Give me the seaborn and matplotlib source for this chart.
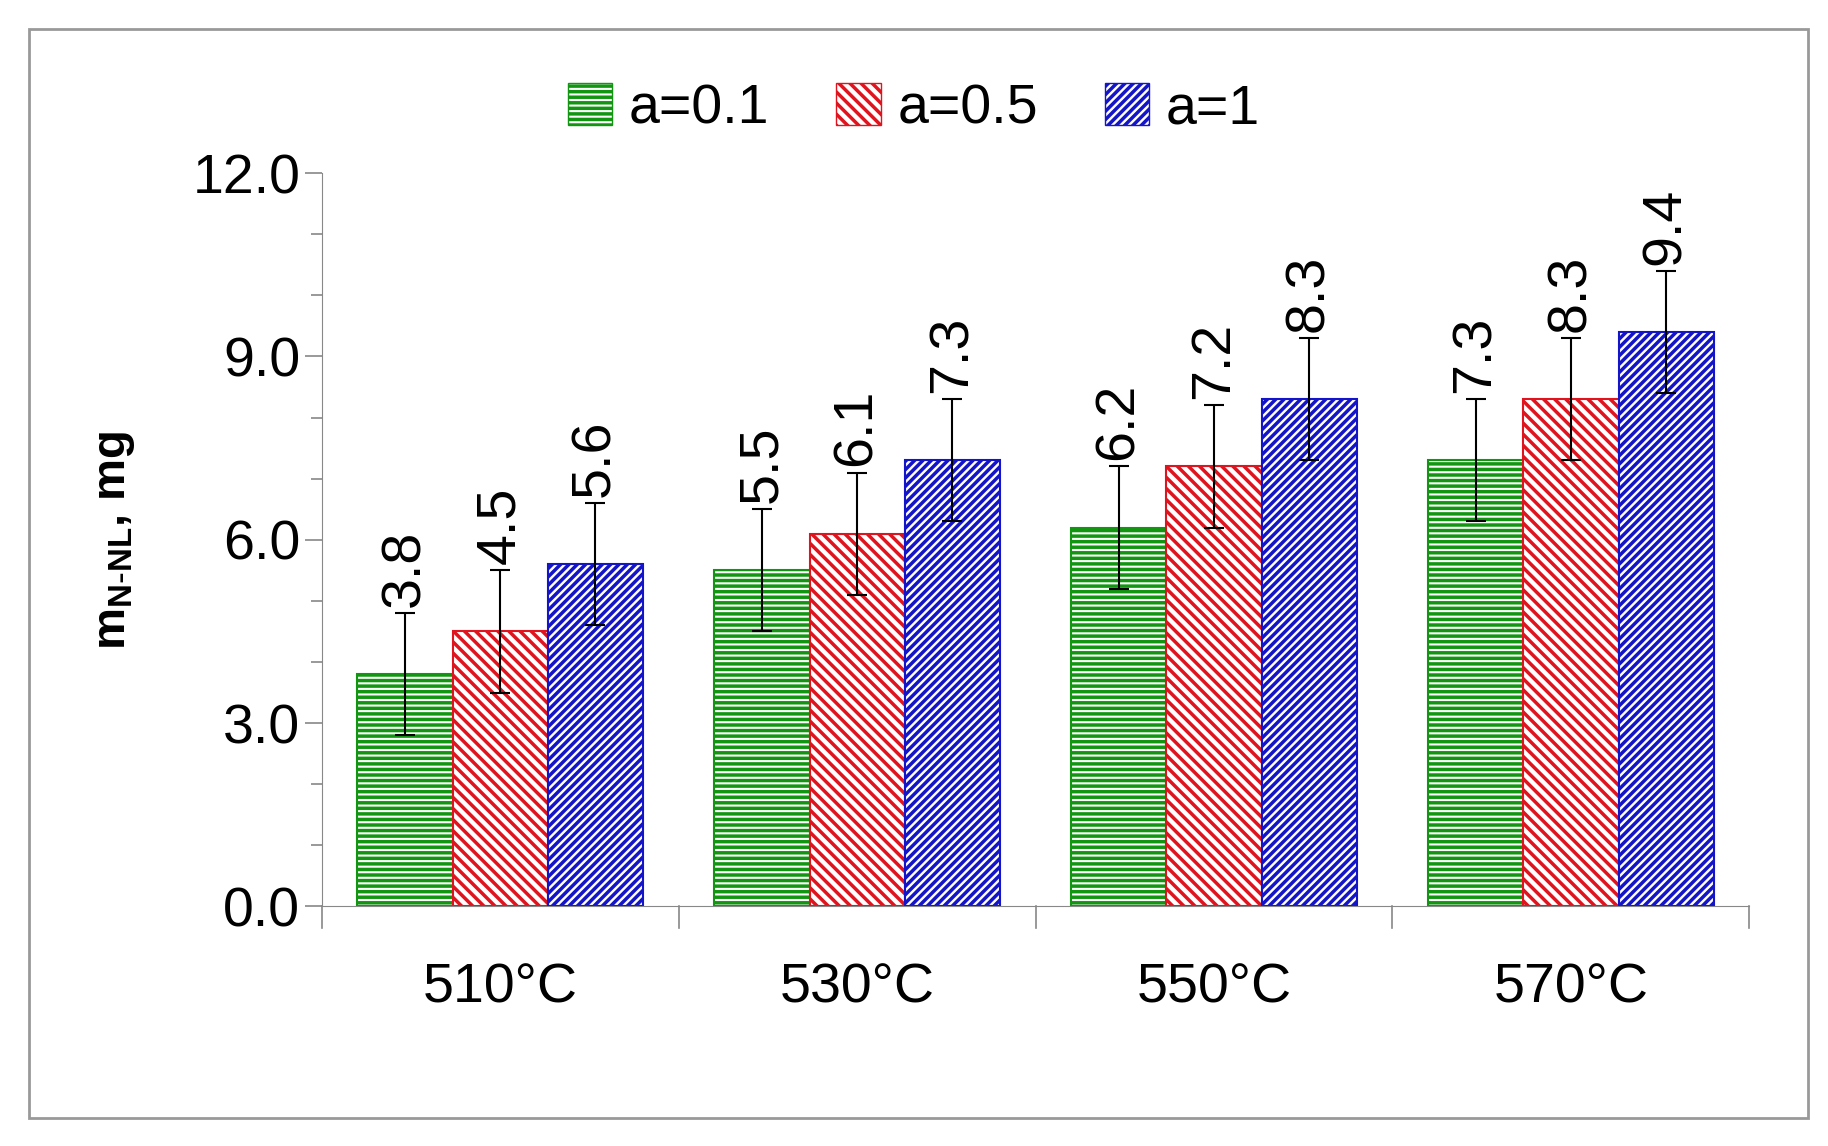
import matplotlib
matplotlib.use("Agg")
import matplotlib.pyplot as plt
import seaborn as sns
import pandas as pd
from matplotlib.patches import Rectangle, Patch

categories = ["510°C", "530°C", "550°C", "570°C"]
series = ["a=0.1", "a=0.5", "a=1"]
vals_01 = [3.8, 5.5, 6.2, 7.3]
vals_05 = [4.5, 6.1, 7.2, 8.3]
vals_1 = [5.6, 7.3, 8.3, 9.4]
err = [1.0, 1.0, 1.0, 1.0]

colors = ["#129612", "#e0141e", "#1414c8"]
hatches = ["---", "\\\\\\", "////"]

rows = []
for s, v in zip(series, [vals_01, vals_05, vals_1]):
    for c, y in zip(categories, v):
        rows.append({"cat": c, "ser": s, "val": y})
df = pd.DataFrame(rows)

plt.rcParams["font.family"] = "Liberation Sans"
plt.rcParams["hatch.linewidth"] = 2.5
fig = plt.figure(figsize=(18.28, 11.46), dpi=100)
fig.patches.append(Rectangle((0.016, 0.024), 0.973, 0.951, transform=fig.transFigure,
                             fill=False, edgecolor="#999999", linewidth=2))
ax = fig.add_axes([0.176, 0.209, 0.781, 0.64])
sns.barplot(data=df, x="cat", y="val", hue="ser", order=categories, hue_order=series,
            palette=["white"] * 3, width=0.8, gap=0, errorbar=None, ax=ax, legend=False)

bar_containers = list(ax.containers)[:3]
for i, cont in enumerate(bar_containers):
    for bar, v, e in zip(cont, [vals_01, vals_05, vals_1][i], err):
        bar.set_facecolor("white")
        bar.set_edgecolor(colors[i])
        bar.set_hatch(hatches[i])
        bar.set_linewidth(1.5)
        x = bar.get_x() + bar.get_width() / 2
        ax.errorbar(x, v, yerr=e, color="black", capsize=7, elinewidth=1.5, capthick=1.5)
        ax.text(x, v + e + 0.1, f"{v:.1f}", rotation=90, ha="center", va="bottom", fontsize=40)

ax.set_ylim(0, 12)
ax.set_xlim(-0.5, 3.5)
ax.set_yticks([0, 3, 6, 9, 12])
ax.set_yticklabels([f"{t:.1f}" for t in [0, 3, 6, 9, 12]], fontsize=40)
ax.set_yticks(range(0, 13), minor=True)
ax.tick_params(axis="y", which="major", length=12, width=1.2, color="#888888")
ax.tick_params(axis="y", which="minor", length=8, width=1.2, color="#888888")
ax.set_xticks([0, 1, 2, 3])
ax.set_xticklabels(categories, fontsize=40)
ax.tick_params(axis="x", length=0, pad=40)
for b in [0.5, 1.5, 2.5, 3.5, -0.5]:
    ax.plot([b, b], [0, -0.35], color="#888888", lw=1.2, clip_on=False)
for s in ["top", "right"]:
    ax.spines[s].set_visible(False)
ax.spines["left"].set_color("#888888")
ax.spines["bottom"].set_color("#888888")
ax.set_xlabel("")
ax.set_ylabel(r"m$_{\mathregular{N\text{-}NL}}$, mg", fontsize=34, fontweight="bold", labelpad=40)

handles = [Patch(facecolor="white", edgecolor=colors[i], hatch=hatches[i], label=series[i]) for i in range(3)]
fig.legend(handles=handles, loc="center", bbox_to_anchor=(0.5, 0.905), ncol=3, frameon=False,
           fontsize=40, handlelength=0.8, handleheight=0.8, columnspacing=1.2, handletextpad=0.3)
fig.savefig("out.png", dpi=100)
